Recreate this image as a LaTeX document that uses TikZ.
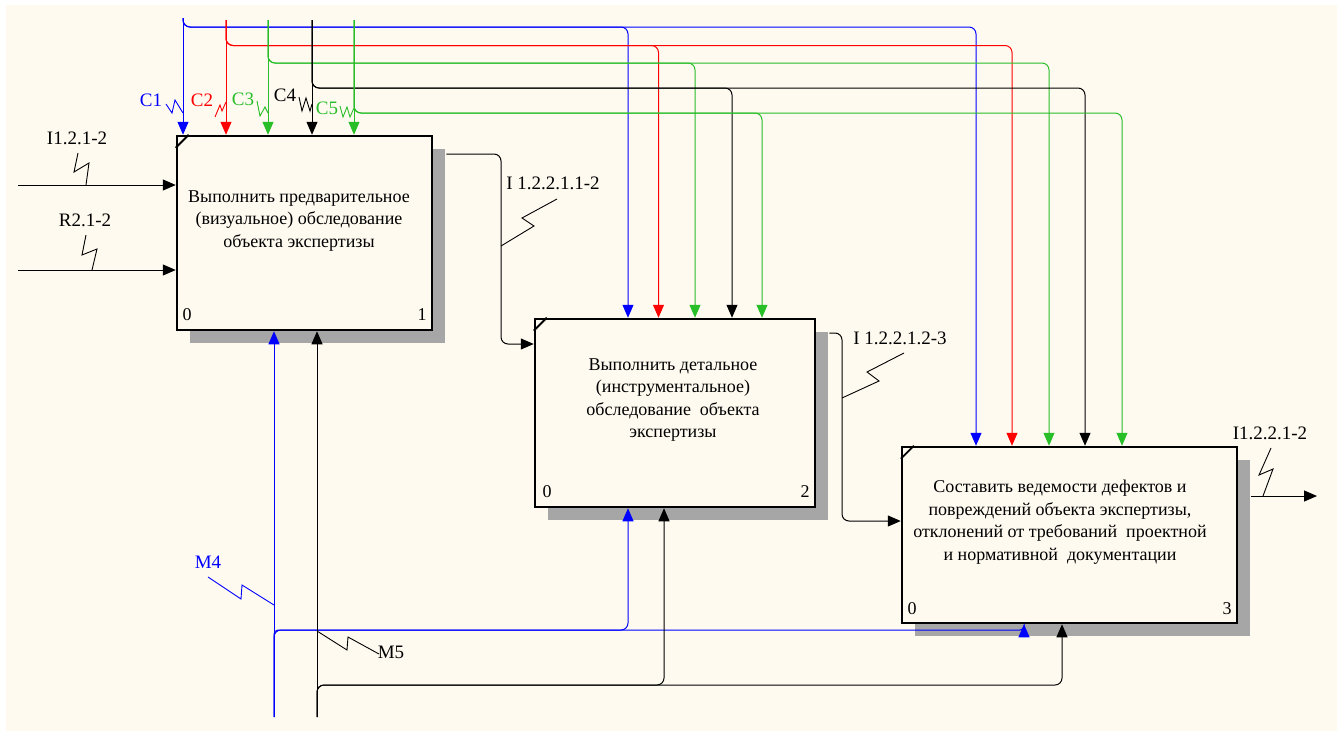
\documentclass[tikz,border=0pt]{standalone}
\usepackage{fontspec}
\setmainfont{Liberation Serif}
\usetikzlibrary{arrows.meta,shadows}
\definecolor{paper}{RGB}{254,250,240}
\definecolor{cblue}{RGB}{0,0,255}
\definecolor{cred}{RGB}{255,0,0}
\definecolor{cgreen}{RGB}{40,190,40}
\tikzset{
  funcbox/.style={draw, line width=2.5pt, fill=paper, rectangle, inner sep=0pt,
    drop shadow={shadow xshift=13pt, shadow yshift=-13pt, opacity=1, fill=black!35}},
  boxtext/.style={align=center, font=\fontsize{18}{22.5}\selectfont, inner sep=0pt},
  lbl/.style={font=\fontsize{19}{22}\selectfont, inner sep=0pt},
  num/.style={font=\fontsize{18}{20}\selectfont, inner sep=0pt},
  arr/.style={line width=1pt, -{Triangle[length=13pt,width=11pt]}},
  link/.style={rounded corners=7pt},
  sq/.style={line width=0.9pt},
}
\begin{document}
\begin{tikzpicture}[x=1pt,y=-1pt]
\useasboundingbox (0,0) rectangle (1337,731);
\fill [white] (0,0) rectangle (1337,731);
\fill [paper] (6,5) rectangle (1337,731);

\node [funcbox, minimum width=255pt, minimum height=194pt] (b1) at (304.5,233) {};
\node [funcbox, minimum width=280pt, minimum height=188pt] (b2) at (675,413) {};
\node [funcbox, minimum width=335pt, minimum height=176pt] (b3) at (1069.5,535) {};
\draw [line width=1.8pt] (b1.north west) ++(0,13) -- ++(13,-13);
\draw [line width=1.8pt] (b2.north west) ++(0,13) -- ++(13,-13);
\draw [line width=1.8pt] (b3.north west) ++(0,13) -- ++(13,-13);

\node [boxtext] (t1) at (299,221) {Выполнить предварительное\\(визуальное) обследование\\объекта экспертизы};
\node [boxtext] (t2) at (673,400) {Выполнить детальное\\(инструментальное)\\обследование\ \ объекта\\экспертизы};
\node [boxtext] (t3) at (1060,522) {Составить ведемости дефектов и\\повреждений объекта экспертизы,\\отклонений от требований\ \ проектной\\и нормативной\ \ документации};

\node [num] (n1a) at (187,315) {0};
\node [num] (n1b) at (422,315) {1};
\node [num] (n2a) at (547,492) {0};
\node [num] (n2b) at (805,492) {2};
\node [num] (n3a) at (912,609) {0};
\node [num] (n3b) at (1227,609) {3};

\coordinate (c1) at (183,18);
\coordinate (c2) at (226,20);
\coordinate (c3) at (268,20);
\coordinate (c4) at (312,20);
\coordinate (c5) at (354,20);
\coordinate (i1) at (18,185);
\coordinate (r1) at (18,270);
\coordinate (m4) at (274,717);
\coordinate (m5) at (317,717);
\coordinate (o3) at (1317,496);
\path (b1.east |- 0,154) ++(13,0) coordinate (s1);
\path (b2.east |- 0,333) ++(13,0) coordinate (s2);
\path (b3.east |- 0,496) ++(13,0) coordinate (s3);

\draw [arr, cblue] (c1) -- (c1 |- b1.north);
\draw [arr, link, cblue] (c1) |- (628,27) -- (628,0 |- b2.north);
\draw [arr, link, cblue] (c1) |- (976,27) -- (976,0 |- b3.north);
\draw [arr, cred] (c2) -- (c2 |- b1.north);
\draw [arr, link, cred] (c2) |- (658.5,45.5) -- (658.5,0 |- b2.north);
\draw [arr, link, cred] (c2) |- (1012,45.5) -- (1012,0 |- b3.north);
\draw [arr, cgreen] (c3) -- (c3 |- b1.north);
\draw [arr, link, cgreen] (c3) |- (695,63) -- (695,0 |- b2.north);
\draw [arr, link, cgreen] (c3) |- (1049,63) -- (1049,0 |- b3.north);
\draw [arr] (c4) -- (c4 |- b1.north);
\draw [arr, link] (c4) |- (732,88) -- (732,0 |- b2.north);
\draw [arr, link] (c4) |- (1085,88) -- (1085,0 |- b3.north);
\draw [arr, cgreen] (c5) -- (c5 |- b1.north);
\draw [arr, link, cgreen] (c5) |- (762,113) -- (762,0 |- b2.north);
\draw [arr, link, cgreen] (c5) |- (1122,113) -- (1122,0 |- b3.north);

\draw [arr] (i1) -- (i1 -| b1.west);
\draw [arr] (r1) -- (r1 -| b1.west);
\draw [arr, link] (s1) -| (501,344) -- (b2.west |- 0,344);
\draw [arr, link] (s2) -| (842,521) -- (b3.west |- 0,521);
\draw [arr] (s3) -- (o3);

\draw [arr, cblue] (m4) -- (m4 |- b1.south);
\draw [arr, link, cblue] (m4) |- (628,630) -- (628,0 |- b2.south);
\draw [arr, cblue, rounded corners=4pt] (m4) |- (1024,630) -- (1024,0 |- b3.south);
\draw [arr] (m5) -- (m5 |- b1.south);
\draw [arr, link] (m5) |- (664,685) -- (664,0 |- b2.south);
\draw [arr, link] (m5) |- (1062,685) -- (1062,0 |- b3.south);

\node [lbl, cblue] (lc1) at (151,100) {C1};
\node [lbl, cred] (lc2) at (202,100) {C2};
\node [lbl, cgreen] (lc3) at (243,99) {C3};
\node [lbl] (lc4) at (285,95) {C4};
\node [lbl, cgreen] (lc5) at (327,108) {C5};
\node [lbl] (li1) at (77,138) {I1.2.1-2};
\node [lbl] (lr1) at (85,220) {R2.1-2};
\node [lbl] (lo1) at (553,183) {I 1.2.2.1.1-2};
\node [lbl] (lo2) at (900,338) {I 1.2.2.1.2-3};
\node [lbl] (lo3) at (1270,433) {I1.2.2.1-2};
\node [lbl, cblue] (lm4) at (208,562) {M4};
\node [lbl] (lm5) at (391,652) {M5};

\draw [sq, cblue] (166,104) -- (172,113) -- (175,100) -- (183,113);
\draw [sq, cred] (215,117) -- (220,105) -- (222,111) -- (226,102);
\draw [sq, cgreen] (257,101) -- (260,116) -- (265,107) -- (268,113);
\draw [sq] (299,97) -- (302,111) -- (306,98) -- (310,111) -- (312,104);
\draw [sq, cgreen] (340,106) -- (343,117) -- (347,107) -- (350,117) -- (354,108);
\draw [sq] (78,153) -- (74,172) -- (89,163) -- (86,185);
\draw [sq] (86,235) -- (82,255) -- (97,249) -- (92,270);
\draw [sq] (557,199) -- (522,218) -- (534,226) -- (501,246);
\draw [sq] (904,353) -- (867,372) -- (879,381) -- (842,398);
\draw [sq] (1271,448) -- (1259,475) -- (1273,469) -- (1263,496);
\draw [sq, cblue] (208,577) -- (241,599) -- (242,585) -- (274,605);
\draw [sq] (317,631) -- (347,650) -- (348,637) -- (379,654);
\end{tikzpicture}
\end{document}
